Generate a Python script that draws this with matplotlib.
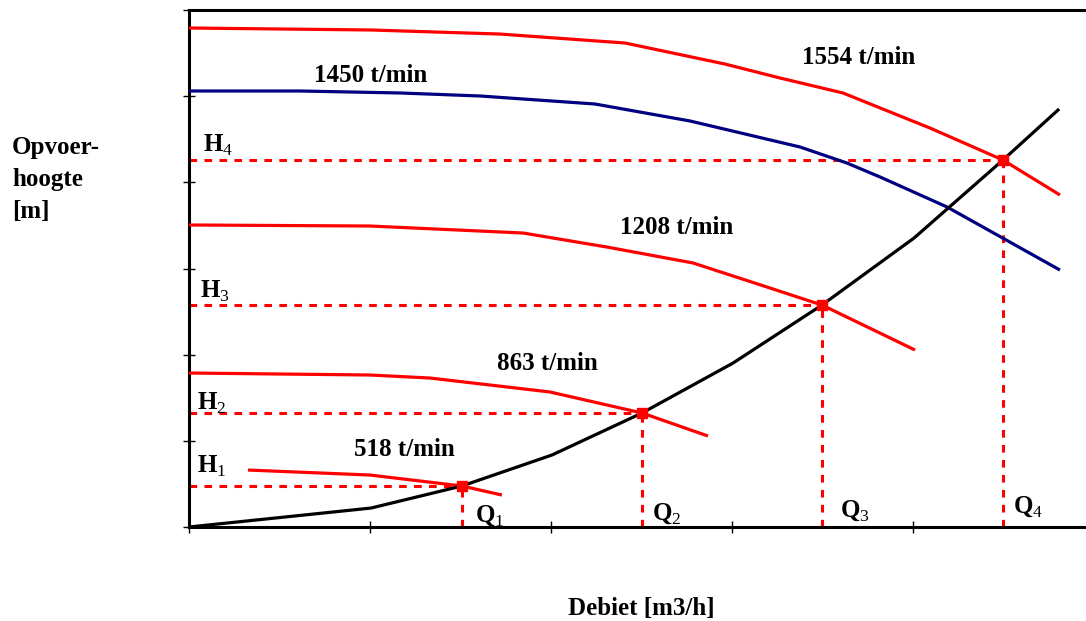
import matplotlib
matplotlib.use('Agg')
import matplotlib.pyplot as plt

plt.rcParams['font.family'] = ['Liberation Serif', 'DejaVu Serif']
plt.rcParams['font.weight'] = 'bold'
plt.rcParams['mathtext.fontset'] = 'custom'
plt.rcParams['mathtext.rm'] = 'Liberation Serif:normal'
plt.rcParams['mathtext.bf'] = 'Liberation Serif:bold'

# pump curves (debiet, opvoerhoogte) for each speed
q_1554 = [0, 1.006, 1.718, 2.409, 2.961, 3.265, 3.613, 4.094, 4.497, 4.812]
h_1554 = [5.791, 5.768, 5.721, 5.617, 5.373, 5.211, 5.037, 4.630, 4.259, 3.853]

q_1450 = [0, 0.613, 1.166, 1.608, 2.243, 2.768, 3.376, 3.635, 3.818, 4.188, 4.812]
h_1450 = [5.060, 5.060, 5.037, 5.002, 4.909, 4.712, 4.410, 4.224, 4.062, 3.714, 2.982]

q_1208 = [0, 1.0, 1.845, 2.309, 2.785, 3.193, 3.497, 4.011]
h_1208 = [3.505, 3.493, 3.412, 3.249, 3.064, 2.785, 2.576, 2.054]

q_863 = [0, 1.0, 1.331, 1.994, 2.503, 2.867]
h_863 = [1.787, 1.764, 1.729, 1.567, 1.323, 1.056]

q_518 = [0.326, 1.0, 1.508, 1.729]
h_518 = [0.661, 0.603, 0.476, 0.371]

# system curve
q_sys = [0, 1.006, 1.508, 2.006, 2.503, 3.006, 3.497, 4.006, 4.497, 4.801]
h_sys = [0, 0.220, 0.476, 0.836, 1.323, 1.903, 2.576, 3.354, 4.259, 4.839]

# operating points
q_op = [1.508, 2.503, 3.497, 4.497]
h_op = [0.476, 1.323, 2.576, 4.259]

speed_labels = ['1554 t/min', '1450 t/min', '1208 t/min', '863 t/min', '518 t/min']

RED = '#ff0000'
BLUE = '#000080'

fig = plt.figure(figsize=(10.86, 6.21), dpi=100)
ax = fig.add_axes([189 / 1086, 94 / 621, 897 / 1086, 517 / 621])

lw = 2.3
for q, h, c in [(q_1554, h_1554, RED), (q_1450, h_1450, BLUE),
                (q_1208, h_1208, RED), (q_863, h_863, RED),
                (q_518, h_518, RED)]:
    ax.plot(q, h, color=c, lw=lw, zorder=3, solid_capstyle='butt')
ax.plot(q_sys, h_sys, color='black', lw=lw, zorder=3)

# dashed guides from each operating point to the axes
for q, h in zip(q_op, h_op):
    ax.plot([0, q], [h, h], color=RED, lw=2.2, dashes=(2.5, 2.4), zorder=2)
    ax.plot([q, q], [0, h], color=RED, lw=2.2, dashes=(2.5, 2.4), zorder=2)
ax.plot(q_op, h_op, 's', color=RED, ms=6.5, zorder=4)

# speed labels
lbl_pos = [(3.702, 5.443), (1.006, 5.245), (2.696, 3.481), (1.978, 1.892), (1.188, 0.894)]
for (x, y), s in zip(lbl_pos, speed_labels):
    ax.text(x, y, s, ha='center', va='center', fontsize=18, fontweight='bold')

# H and Q labels
h_txt = [(0.044, 0.627), (0.044, 1.358), (0.061, 2.658), (0.077, 4.352)]
q_txt = [(1.580, 0.058), (2.558, 0.081), (3.597, 0.116), (4.552, 0.162)]
for i, ((hx, hy), (qx, qy)) in enumerate(zip(h_txt, q_txt), start=1):
    ax.text(hx, hy, r'$\mathbf{H}_{%d}$' % i, ha='left', va='baseline', fontsize=18)
    ax.text(qx, qy, r'$\mathbf{Q}_{%d}$' % i, ha='left', va='baseline', fontsize=18)

ax.set_xlim(0, 897 / 181)
ax.set_ylim(0, 6)
ax.set_xticks(range(0, 5))
ax.set_yticks(range(0, 7))
ax.tick_params(direction='inout', length=9, width=1, labelbottom=False, labelleft=False)
ax.spines['right'].set_visible(False)
for side in ['left', 'bottom', 'top']:
    ax.spines[side].set_linewidth(2.2)

fig.text(12 / 1086, 1 - 136 / 621, 'Opvoer-\nhoogte\n[m]', ha='left', va='top',
         fontsize=18, fontweight='bold', linespacing=1.5)
fig.text(641 / 1086, 1 - 608 / 621, 'Debiet [m3/h]', ha='center', va='center',
         fontsize=18, fontweight='bold')

fig.savefig('out.png', dpi=100)
